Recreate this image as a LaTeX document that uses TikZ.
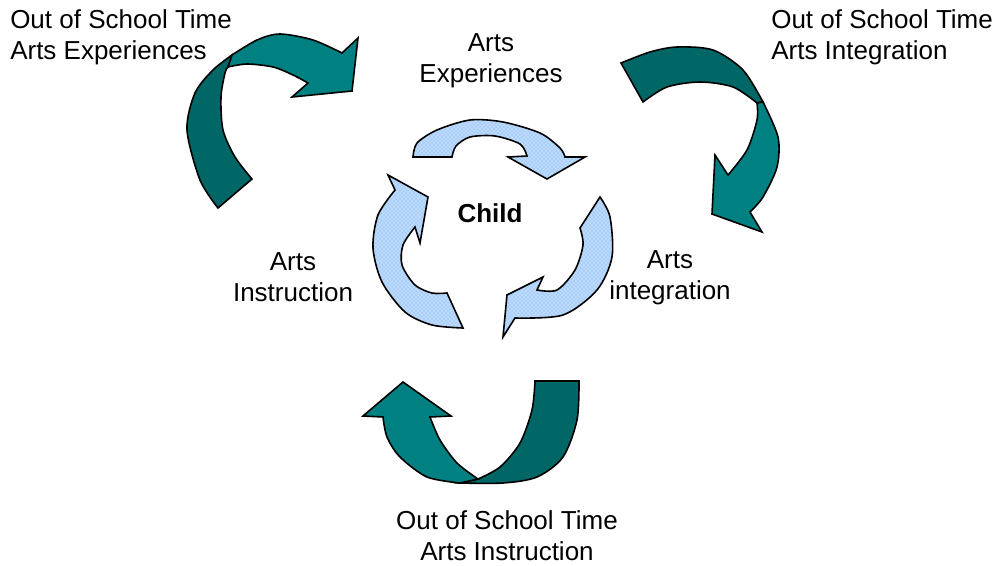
\documentclass[tikz,border=0pt]{standalone}
\usepackage{fontspec}
\setmainfont{Liberation Sans}
\usetikzlibrary{patterns}

\begin{document}
\begin{tikzpicture}[x=0.75pt,y=-0.75pt,
    lbl/.style={font=\fontsize{19.5}{23.25}\selectfont, align=center, inner sep=0pt},
    front/.style={fill={rgb,255:red,0;green,128;blue,128}, draw=black, line width=1.2pt},
    back/.style={fill={rgb,255:red,0;green,102;blue,102}, draw=black, line width=1.2pt},
    cyc/.style={draw=black, line width=1.2pt,
      preaction={fill={rgb,255:red,170;green,207;blue,250}},
      pattern=crosshatch dots, pattern color=white}]
  \useasboundingbox (0,0) rectangle (1000,565);

  % inner cycle
  \draw[cyc] plot[smooth] coordinates {(413,157) (417,143) (437,130) (470,120) (503,122) (540,133) (560,148) (565,157)}
    -- (585,157) -- (547,179) -- (508,157)
    -- plot[smooth] coordinates {(527,156) (520,144) (495,136) (470,137) (456,146) (452,157)} -- cycle;
  \draw[cyc] plot[smooth] coordinates {(600,197) (610,217) (612,257) (597,290) (563,315) (515,318)}
    -- (503,337) -- (507,295) -- (543,277)
    -- plot[smooth] coordinates {(537,290) (557,290) (575,270) (583,245) (580,228)} -- cycle;
  \draw[cyc] plot[smooth] coordinates {(463,328) (432,325) (405,312) (382,282) (373,248) (378,215) (395,190)}
    -- (388,175) -- (428,197) -- (420,243)
    -- plot[smooth] coordinates {(415,227) (403,245) (402,265) (415,285) (432,293) (447,293)} -- cycle;

  % out of school time, top left
  \draw[back] plot[smooth] coordinates {(218,208) (200,180) (187,130) (195,93) (213,70) (232,55)}
    -- plot[smooth] coordinates {(228,67) (225,73) (221,97) (223,130) (235,157) (252,179)} -- cycle;
  \draw[front] plot[smooth] coordinates {(232,55) (257,40) (280,34) (313,40) (342,53)}
    -- (358,38) -- (352,91) -- (292,97)
    -- plot[smooth] coordinates {(308,83) (293,75) (273,67) (247,64) (228,67)} -- cycle;

  % out of school time, top right
  \draw[back] plot[smooth] coordinates {(621,63) (650,52) (677,47) (713,50) (743,70) (763,102)}
    -- plot[smooth] coordinates {(757,103) (733,87) (700,82) (667,87) (643,102)} -- cycle;
  \draw[front] plot[smooth] coordinates {(763,102) (778,137) (777,167) (763,197) (750,212)}
    -- (762,232) -- (712,214) -- (715,155)
    -- plot[smooth] coordinates {(728,175) (747,150) (757,120) (757,103)} -- cycle;

  % out of school time, bottom
  \draw[back] (535,381) -- (579,381)
    -- plot[smooth] coordinates {(579,381) (577,420) (563,457) (537,477) (503,483) (460,483)}
    -- plot[smooth] coordinates {(478,479) (500,467) (520,443) (532,410) (535,381)} -- cycle;
  \draw[front] plot[smooth] coordinates {(460,483) (427,477) (400,457) (387,437) (383,417)}
    -- (363,416) -- (403,382) -- (451,416)
    -- plot[smooth] coordinates {(430,417) (440,440) (457,463) (478,479)} -- cycle;

  \node[lbl, align=left, anchor=west] (oexp) at (10,37) {Out of School Time\\Arts Experiences};
  \node[lbl, align=left, anchor=west] (oint) at (771,37) {Out of School Time\\Arts Integration};
  \node[lbl] (exp) at (491,61) {Arts\\Experiences};
  \node[lbl] (child) at (490,213) {\textbf{Child}};
  \node[lbl] (ins) at (293,277) {Arts\\Instruction};
  \node[lbl] (int) at (670,278) {Arts\\integration};
  \node[lbl] (oins) at (507,536) {Out of School Time\\Arts Instruction};
\end{tikzpicture}
\end{document}
